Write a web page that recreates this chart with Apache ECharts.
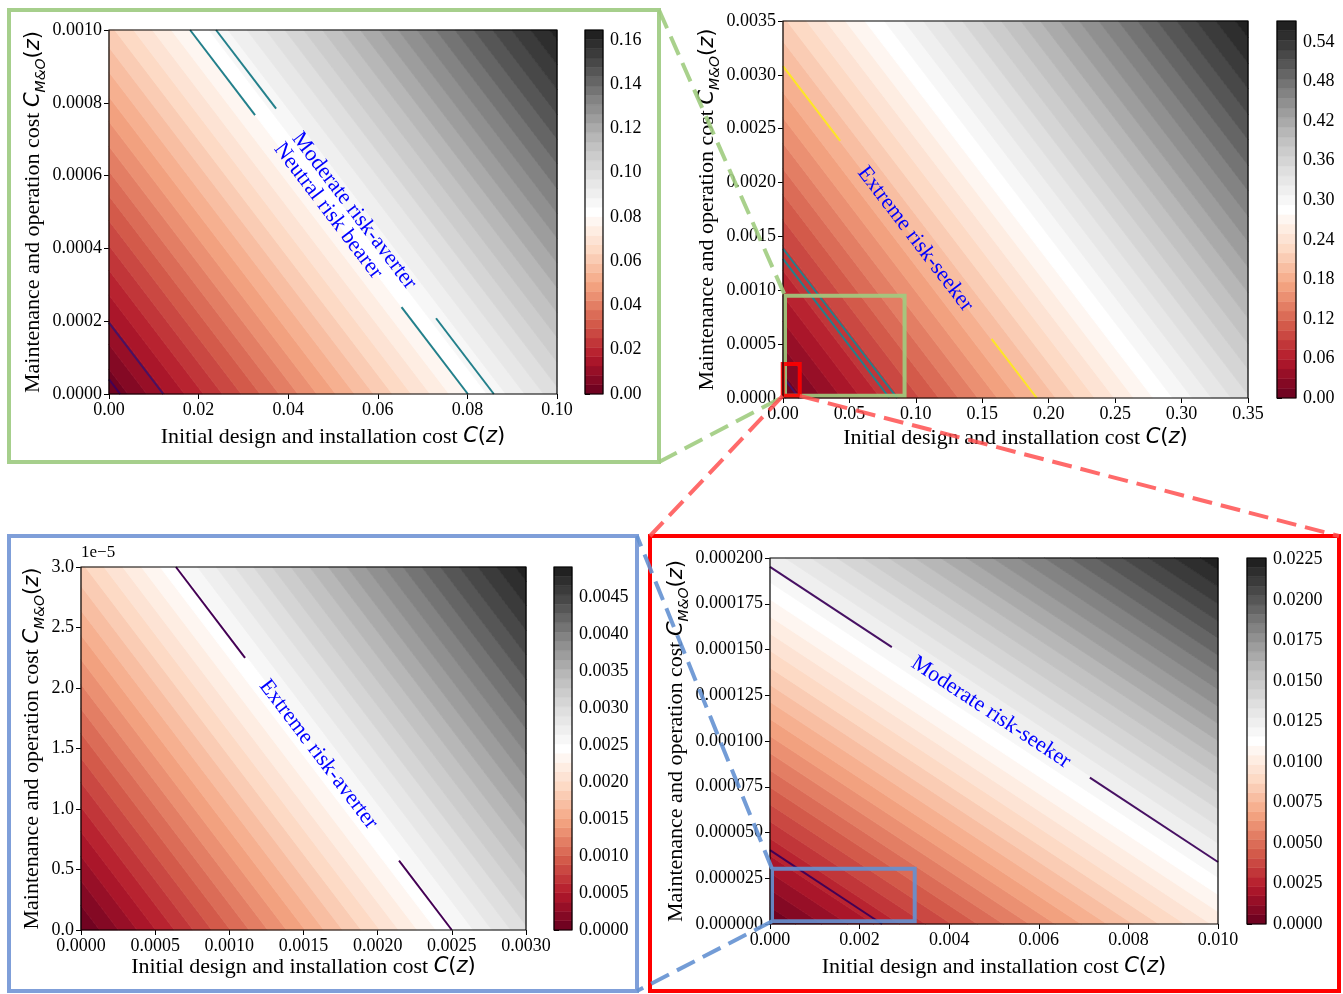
<!DOCTYPE html>
<html>
<head>
<meta charset="utf-8">
<script src="https://cdn.jsdelivr.net/npm/echarts@6/dist/echarts.min.js"></script>
<style>html,body{margin:0;background:#fff}#main{width:1343px;height:994px}</style>
</head>
<body>
<div id="main"></div>
<script>
// contour lines run along x + isoSlope*y = level
var isoSlope = 62;
var bandCount = 39;

// top-left panel (zoom of the green box)
var tlX = [0, 0.1];
var tlY = [0, 0.001];
var tlXTicks = [0, 0.02, 0.04, 0.06, 0.08, 0.1];
var tlYTicks = [0, 0.0002, 0.0004, 0.0006, 0.0008, 0.001];
var tlCbar = [0, 0.1645];
var tlCbarTicks = [0, 0.02, 0.04, 0.06, 0.08, 0.1, 0.12, 0.14, 0.16];

// top-right panel (full range)
var trX = [0, 0.35];
var trY = [0, 0.0035];
var trXTicks = [0, 0.05, 0.1, 0.15, 0.2, 0.25, 0.3, 0.35];
var trYTicks = [0, 0.0005, 0.001, 0.0015, 0.002, 0.0025, 0.003, 0.0035];
var trCbar = [0, 0.572];
var trCbarTicks = [0, 0.06, 0.12, 0.18, 0.24, 0.3, 0.36, 0.42, 0.48, 0.54];

// bottom-left panel (zoom of the blue box)
var blX = [0, 0.003];
var blY = [0, 0.00003];
var blXTicks = [0, 0.0005, 0.001, 0.0015, 0.002, 0.0025, 0.003];
var blYTicks = [0, 0.000005, 0.00001, 0.000015, 0.00002, 0.000025, 0.00003];
var blCbar = [0, 0.004913];
var blCbarTicks = [0, 0.0005, 0.001, 0.0015, 0.002, 0.0025, 0.003, 0.0035, 0.004, 0.0045];

// bottom-right panel (zoom of the red box)
var brX = [0, 0.01];
var brY = [0, 0.0002];
var brXTicks = [0, 0.002, 0.004, 0.006, 0.008, 0.01];
var brYTicks = [0, 0.000025, 0.00005, 0.000075, 0.0001, 0.000125, 0.00015, 0.000175, 0.0002];
var brCbar = [0, 0.02258];
var brCbarTicks = [0, 0.0025, 0.005, 0.0075, 0.01, 0.0125, 0.015, 0.0175, 0.02, 0.0225];

// contour line levels and their colours
var lineLevels = [0.0025, 0.0121, 0.0801, 0.0859, 0.191];
var lineColors = ['#440154', '#471163', '#23808b', '#23808b', '#fde725'];

// breaks in the lines where the labels sit: [level, x from, x to]
var tlGaps = [[0.0801, 0.0326, 0.0653], [0.0859, 0.0373, 0.0730]];
var trGaps = [[0.191, 0.043, 0.157]];
var blGaps = [[0.0025, 0.001106, 0.002144]];
var brGaps = [[0.0121, 0.00272, 0.00714]];

// labels: [text, level, x of centre]
var tlLabels = [['Moderate risk-averter', 0.0859, 0.0547], ['Neutral risk bearer', 0.0801, 0.0489]];
var trLabels = [['Extreme risk-seeker', 0.191, 0.0995]];
var blLabels = [['Extreme risk-averter', 0.0025, 0.0016]];
var brLabels = [['Moderate risk-seeker', 0.0121, 0.00493]];

// zoom windows: [x0, x1, y0, y1]
var trGreenBox = [0.0015, 0.0915, 0.00002, 0.00095];
var trRedBox = [-0.0002, 0.0126, 0.00002, 0.000316];
var brBlueBox = [0.000045, 0.00323, 0.0000015, 0.0000302];

var rdgy = ['#67001f', '#b2182b', '#d6604d', '#f4a582', '#fddbc7', '#ffffff', '#e0e0e0', '#bababa', '#878787', '#4d4d4d', '#1a1a1a'];
function hex(c) { return [parseInt(c.substr(1, 2), 16), parseInt(c.substr(3, 2), 16), parseInt(c.substr(5, 2), 16)]; }
function cmap(t) {
	var p = t * (rdgy.length - 1);
	var i = Math.min(Math.floor(p), rdgy.length - 2);
	var f = p - i, a = hex(rdgy[i]), b = hex(rdgy[i + 1]);
	return 'rgb(' + Math.round(a[0] + (b[0] - a[0]) * f) + ',' + Math.round(a[1] + (b[1] - a[1]) * f) + ',' + Math.round(a[2] + (b[2] - a[2]) * f) + ')';
}

function isoValue(p) { return p[0] + isoSlope * p[1]; }
function clipHalf(pts, f) {
	var out = [];
	for (var i = 0; i < pts.length; i++) {
		var a = pts[i], b = pts[(i + 1) % pts.length];
		var fa = f(a), fb = f(b);
		if (fa >= 0) out.push(a);
		if ((fa >= 0) !== (fb >= 0)) {
			var t = fa / (fa - fb);
			out.push([a[0] + t * (b[0] - a[0]), a[1] + t * (b[1] - a[1])]);
		}
	}
	return out;
}
function bandsOf(range) {
	var out = [];
	for (var i = 0; i < bandCount; i++) {
		out.push([range[0] + (range[1] - range[0]) * i / bandCount, range[0] + (range[1] - range[0]) * (i + 1) / bandCount]);
	}
	return out;
}

var serif = '"Liberation Serif", "Times New Roman", serif';
var nameRich = {
	t: {fontFamily: serif, fontSize: 22, color: '#000', lineHeight: 30},
	m: {fontFamily: 'DejaVu Sans', fontStyle: 'italic', fontSize: 21, color: '#000', lineHeight: 30},
	p: {fontFamily: 'DejaVu Sans', fontSize: 21, color: '#000', lineHeight: 30},
	s: {fontFamily: 'DejaVu Sans', fontStyle: 'italic', fontSize: 14, color: '#000', lineHeight: 30, verticalAlign: 'bottom'}
};
var xName = '{t|Initial design and installation cost }{m|C}{p|(}{m|z}{p|)}';
var yName = '{t|Maintenance and operation cost }{m|C}{s|M&O}{p|(}{m|z}{p|)}';

var panels = [
	{xr: tlX, yr: tlY, xt: tlXTicks, yt: tlYTicks, xd: 2, yd: 4, cr: tlCbar, ct: tlCbarTicks, cd: 2, gaps: tlGaps, labels: tlLabels,
		box: {left: 109, top: 30, width: 448, height: 364}, cbar: {left: 585, top: 30, width: 18, height: 364}, xGap: 28, yGap: 58},
	{xr: trX, yr: trY, xt: trXTicks, yt: trYTicks, xd: 2, yd: 4, cr: trCbar, ct: trCbarTicks, cd: 2, gaps: trGaps, labels: trLabels,
		box: {left: 783, top: 21, width: 465, height: 377}, cbar: {left: 1277, top: 21, width: 19, height: 377}, xGap: 25, yGap: 57},
	{xr: blX, yr: blY, xt: blXTicks, yt: blYTicks, xd: 4, yd: 1, yScale: 1e-5, cr: blCbar, ct: blCbarTicks, cd: 4, gaps: blGaps, labels: blLabels,
		box: {left: 81, top: 567, width: 445, height: 363}, cbar: {left: 554, top: 567, width: 18, height: 363}, xGap: 22, yGap: 31},
	{xr: brX, yr: brY, xt: brXTicks, yt: brYTicks, xd: 3, yd: 6, cr: brCbar, ct: brCbarTicks, cd: 4, gaps: brGaps, labels: brLabels,
		box: {left: 770, top: 558, width: 448, height: 366}, cbar: {left: 1247, top: 558, width: 19, height: 366}, xGap: 28, yGap: 78}
];

function fmt(d, scale) {
	return function (v) { return (scale ? v / scale : v).toFixed(d); };
}

var grids = [], xAxes = [], yAxes = [], series = [], graphics = [];
panels.forEach(function (pn, k) {
	var g = k * 2, c = k * 2 + 1;
	grids.push(pn.box);
	grids.push(pn.cbar);
	xAxes.push({gridIndex: g, type: 'value', min: pn.xr[0], max: pn.xr[1], splitLine: {show: false}, axisLine: {show: false},
		axisTick: {show: true, length: 5, lineStyle: {color: '#000'}, customValues: pn.xt},
		axisLabel: {customValues: pn.xt, formatter: fmt(pn.xd), fontFamily: serif, fontSize: 18, color: '#000', margin: 7},
		name: xName, nameLocation: 'middle', nameGap: pn.xGap, nameTextStyle: {rich: nameRich}});
	yAxes.push({gridIndex: g, type: 'value', min: pn.yr[0], max: pn.yr[1], splitLine: {show: false}, axisLine: {show: false},
		axisTick: {show: true, length: 5, lineStyle: {color: '#000'}, customValues: pn.yt},
		axisLabel: {customValues: pn.yt, formatter: fmt(pn.yd, pn.yScale), fontFamily: serif, fontSize: 18, color: '#000', margin: 7},
		name: yName, nameLocation: 'middle', nameRotate: 90, nameGap: pn.yGap, nameTextStyle: {rich: nameRich}});
	xAxes.push({gridIndex: c, type: 'value', min: 0, max: 1, show: false});
	yAxes.push({gridIndex: c, type: 'value', min: pn.cr[0], max: pn.cr[1], position: 'right', splitLine: {show: false}, axisLine: {show: false},
		axisTick: {show: true, length: 5, lineStyle: {color: '#000'}, customValues: pn.ct},
		axisLabel: {customValues: pn.ct, formatter: fmt(pn.cd), fontFamily: serif, fontSize: 18, color: '#000', margin: 7}});

	// filled contour bands
	series.push({
		type: 'custom', xAxisIndex: g, yAxisIndex: g, silent: true, z: 1,
		data: bandsOf(pn.cr),
		renderItem: function (params, api) {
			var i = params.dataIndex;
			var lo = i === 0 ? -Infinity : api.value(0);
			var hi = i === bandCount - 1 ? Infinity : api.value(1);
			var pts = [[pn.xr[0], pn.yr[0]], [pn.xr[1], pn.yr[0]], [pn.xr[1], pn.yr[1]], [pn.xr[0], pn.yr[1]]];
			pts = clipHalf(pts, function (p) { return isoValue(p) - lo; });
			pts = clipHalf(pts, function (p) { return hi - isoValue(p); });
			if (pts.length < 3) return {type: 'group', children: []};
			var color = cmap((i + 0.5) / bandCount);
			return {type: 'polygon', shape: {points: pts.map(function (p) { return api.coord(p); })},
				style: {fill: color, stroke: color, lineWidth: 0.8}};
		}
	});
	// contour lines
	series.push({
		type: 'custom', xAxisIndex: g, yAxisIndex: g, silent: true, z: 3,
		data: lineLevels.map(function (L, i) { return [L, i]; }),
		renderItem: function (params, api) {
			var L = api.value(0), idx = params.dataIndex;
			var xa = Math.max(pn.xr[0], L - isoSlope * pn.yr[1]);
			var xb = Math.min(pn.xr[1], L - isoSlope * pn.yr[0]);
			var children = [];
			if (xa < xb) {
				var cuts = [[xa, xb]];
				pn.gaps.forEach(function (gp) {
					if (gp[0] !== L) return;
					var next = [];
					cuts.forEach(function (ct) {
						if (gp[1] > ct[0]) next.push([ct[0], Math.min(ct[1], gp[1])]);
						if (gp[2] < ct[1]) next.push([Math.max(ct[0], gp[2]), ct[1]]);
					});
					cuts = next;
				});
				cuts.forEach(function (ct) {
					var a = api.coord([ct[0], (L - ct[0]) / isoSlope]);
					var b = api.coord([ct[1], (L - ct[1]) / isoSlope]);
					children.push({type: 'line', shape: {x1: a[0], y1: a[1], x2: b[0], y2: b[1]},
						style: {stroke: lineColors[idx], lineWidth: 2}});
				});
			}
			return {type: 'group', children: children};
		}
	});
	// inline labels
	series.push({
		type: 'custom', xAxisIndex: g, yAxisIndex: g, silent: true, z: 4,
		data: pn.labels.map(function (l) { return [l[2], l[1]]; }),
		renderItem: function (params, api) {
			var lab = pn.labels[params.dataIndex];
			var L = lab[1], x = lab[2], dx = (pn.xr[1] - pn.xr[0]) * 0.1;
			var p = api.coord([x, (L - x) / isoSlope]);
			var q = api.coord([x + dx, (L - x - dx) / isoSlope]);
			return {type: 'text', x: p[0], y: p[1], rotation: -Math.atan2(q[1] - p[1], q[0] - p[0]),
				style: {text: lab[0], fill: '#0000ff', font: '22px ' + serif, align: 'center', verticalAlign: 'middle'}};
		}
	});
	// colorbar
	series.push({
		type: 'custom', xAxisIndex: c, yAxisIndex: c, silent: true,
		data: bandsOf(pn.cr),
		renderItem: function (params, api) {
			var a = api.coord([0, api.value(0)]), b = api.coord([1, api.value(1)]);
			var color = cmap((params.dataIndex + 0.5) / bandCount);
			return {type: 'rect', shape: {x: a[0], y: b[1], width: b[0] - a[0], height: a[1] - b[1]},
				style: {fill: color, stroke: color, lineWidth: 0.5}};
		}
	});
	graphics.push({type: 'rect', z: 50, shape: {x: pn.box.left, y: pn.box.top, width: pn.box.width, height: pn.box.height},
		style: {fill: null, stroke: '#000', lineWidth: 1.2}});
	graphics.push({type: 'rect', z: 50, shape: {x: pn.cbar.left, y: pn.cbar.top, width: pn.cbar.width, height: pn.cbar.height},
		style: {fill: null, stroke: '#000', lineWidth: 1.2}});
});

function boxSeries(gridIdx, bx, color) {
	return {
		type: 'custom', xAxisIndex: gridIdx, yAxisIndex: gridIdx, silent: true, clip: false, z: 5,
		data: [bx],
		renderItem: function (params, api) {
			var a = api.coord([api.value(0), api.value(2)]), b = api.coord([api.value(1), api.value(3)]);
			return {type: 'rect', shape: {x: a[0], y: b[1], width: b[0] - a[0], height: a[1] - b[1]},
				style: {fill: null, stroke: color, lineWidth: 4}};
		}
	};
}
series.push(boxSeries(2, trGreenBox, 'rgba(160,204,128,0.9)'));
series.push(boxSeries(2, trRedBox, 'rgba(255,0,0,0.9)'));
series.push(boxSeries(6, brBlueBox, 'rgba(100,145,210,0.9)'));

// panel frames
var greenFrame = [9, 10, 650, 452];
var blueFrame = [9, 536, 628, 455];
var redFrame = [650, 536, 689, 455];
[[greenFrame, '#a6cf8c'], [blueFrame, '#7f9fd9'], [redFrame, '#ff0000']].forEach(function (f) {
	graphics.push({type: 'rect', z: 60, shape: {x: f[0][0], y: f[0][1], width: f[0][2], height: f[0][3]},
		style: {fill: null, stroke: f[1], lineWidth: 4}});
});
graphics.push({type: 'text', z: 60, x: 81, y: 553, style: {text: '1e\u22125', font: '17px ' + serif, fill: '#000', verticalAlign: 'middle'}});

var chart = echarts.init(document.getElementById('main'));
chart.setOption({
	animation: false,
	backgroundColor: '#fff',
	grid: grids,
	xAxis: xAxes,
	yAxis: yAxes,
	series: series,
	graphic: graphics
});

// dashed connectors from the zoom boxes to the panel frames
function px(gridIdx, pt) { return chart.convertToPixel({gridIndex: gridIdx}, pt); }
function dash(a, b, color) {
	return {type: 'line', z: 70, shape: {x1: a[0], y1: a[1], x2: b[0], y2: b[1]},
		style: {stroke: color, lineWidth: 4, lineDash: [20, 9]}};
}
var gTL = px(2, [trGreenBox[0], trGreenBox[3]]), gBL = px(2, [trGreenBox[0], trGreenBox[2]]);
var rBL = px(2, [trRedBox[0], trRedBox[2]]), rBR = px(2, [trRedBox[1], trRedBox[2]]);
var bTL = px(6, [brBlueBox[0], brBlueBox[3]]), bBL = px(6, [brBlueBox[0], brBlueBox[2]]);
var links = [
	dash([greenFrame[0] + greenFrame[2], greenFrame[1]], gTL, 'rgba(160,204,128,0.9)'),
	dash([greenFrame[0] + greenFrame[2], greenFrame[1] + greenFrame[3]], gBL, 'rgba(160,204,128,0.9)'),
	dash(rBL, [redFrame[0], redFrame[1]], 'rgba(255,80,80,0.85)'),
	dash(rBR, [redFrame[0] + redFrame[2], redFrame[1]], 'rgba(255,80,80,0.85)'),
	dash(bTL, [blueFrame[0] + blueFrame[2], blueFrame[1]], 'rgba(100,145,210,0.9)'),
	dash(bBL, [blueFrame[0] + blueFrame[2], blueFrame[1] + blueFrame[3]], 'rgba(100,145,210,0.9)')
];
chart.setOption({graphic: graphics.concat(links)});
</script>
</body>
</html>
